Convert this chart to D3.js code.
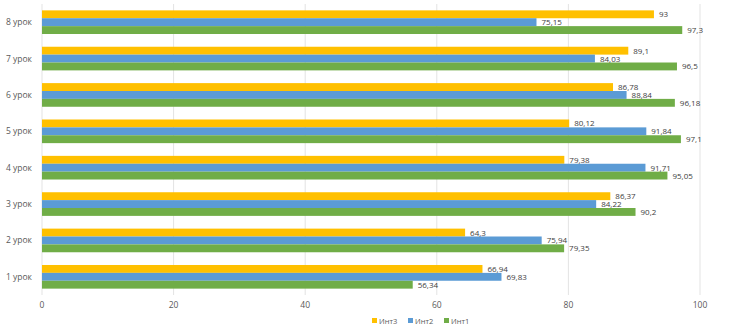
<html>
    <head>
        <meta charset="utf-8">
        <script src="https://d3js.org/d3.v7.min.js"></script>
        <style>
            body { margin:0; background:#fff; }
            text { font-family: "Open Sans", "Liberation Sans", sans-serif; }
        </style>
    </head>
    <body>
        <svg id="chart" width="735" height="328"></svg>
        <script>
            const categories = ["1 урок","2 урок","3 урок","4 урок","5 урок","6 урок","7 урок","8 урок"];
            const seriesNames = ["Инт3","Инт2","Инт1"];
            const int3 = [66.94, 64.3, 86.37, 79.38, 80.12, 86.78, 89.1, 93];
            const int2 = [69.83, 75.94, 84.22, 91.71, 91.84, 88.84, 84.03, 75.15];
            const int1 = [56.34, 79.35, 90.2, 95.05, 97.1, 96.18, 96.5, 97.3];
            const xTicks = [0, 20, 40, 60, 80, 100];
            const colors = ["#FFC000", "#5B9BD5", "#70AD47"];

            const svg = d3.select("#chart");
            const plotLeft = 42, plotRight = 700, plotTop = 4, plotBottom = 295;

            const x = d3.scaleLinear().domain([0,100]).range([plotLeft,plotRight]);
            // 8 урок on top
            const y = d3.scaleBand().domain(categories.slice().reverse()).range([plotTop,plotBottom]).paddingInner(0.35).paddingOuter(0.175);
            const ySub = d3.scaleBand().domain(seriesNames).range([0, y.bandwidth()]);

            // gridlines
            svg.append("g").selectAll("line").data(xTicks).join("line")
                .attr("x1", d=>x(d)).attr("x2", d=>x(d))
                .attr("y1", plotTop).attr("y2", plotBottom)
                .attr("stroke", "#e3e3e3").attr("stroke-width", 1);

            // axis labels
            svg.append("g").selectAll("text").data(xTicks).join("text")
                .attr("x", d=>x(d)).attr("y", 308)
                .attr("text-anchor","middle")
                .attr("font-size", 8.5).attr("fill","#595959")
                .text(d=>d);

            svg.append("g").selectAll("text").data(categories).join("text")
                .attr("x", 32).attr("y", d=>y(d)+y.bandwidth()/2)
                .attr("dy","0.35em")
                .attr("text-anchor","end")
                .attr("font-size", 8.5).attr("fill","#595959")
                .text(d=>d);

            const series = [int3, int2, int1];
            const rows = [];
            series.forEach((vals, si)=>{
                vals.forEach((v, ci)=>{
                    rows.push({cat:categories[ci], name:seriesNames[si], value:v, color:colors[si]});
                });
            });

            const bars = svg.append("g");
            bars.selectAll("rect").data(rows).join("rect")
                .attr("x", x(0))
                .attr("y", d=>y(d.cat)+ySub(d.name))
                .attr("width", d=>x(d.value)-x(0))
                .attr("height", ySub.bandwidth())
                .attr("fill", d=>d.color);

            bars.selectAll("text").data(rows).join("text")
                .attr("x", d=>x(d.value)+5)
                .attr("y", d=>y(d.cat)+ySub(d.name)+ySub.bandwidth()/2)
                .attr("dy","0.38em")
                .attr("font-size", 8).attr("fill","#404040")
                .text(d=>String(d.value).replace(".", ","));

            // legend
            const legend = svg.append("g").attr("transform","translate(372,321)");
            const item = legend.selectAll("g").data(seriesNames).join("g")
                .attr("transform",(d,i)=>`translate(${i*36},0)`);
            item.append("rect").attr("x",0).attr("y",-3).attr("width",5).attr("height",5)
                .attr("fill",(d,i)=>colors[i]);
            item.append("text").attr("x",7).attr("y",0).attr("dy","0.35em")
                .attr("font-size",7.5).attr("fill","#595959").text(d=>d);
        </script>
    </body>
</html>
